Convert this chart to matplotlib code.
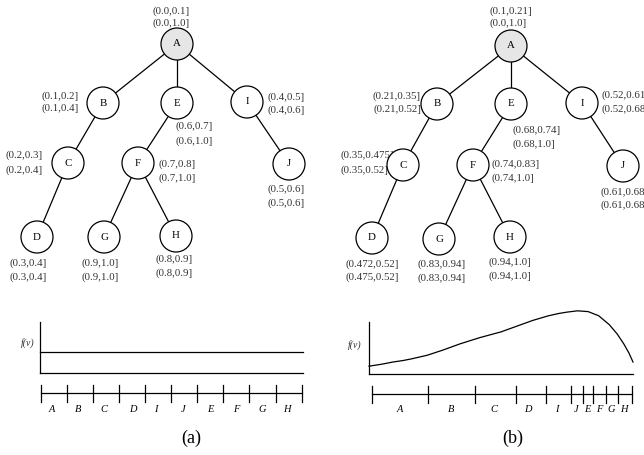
import numpy as np
import matplotlib
matplotlib.use('Agg')
import matplotlib.pyplot as plt
from matplotlib.patches import Circle

plt.rcParams['font.family'] = ['Liberation Serif', 'DejaVu Serif']

# tree structure
nodes = ['A', 'B', 'C', 'D', 'E', 'F', 'G', 'H', 'I', 'J']
edges = [('A', 'B'), ('A', 'E'), ('A', 'I'), ('B', 'C'), ('C', 'D'),
         ('E', 'F'), ('F', 'G'), ('F', 'H'), ('I', 'J')]

# interval labels per node (top line, bottom line)
labels_a = {'A': ('(0.0,0.1]', '(0.0,1.0]'), 'B': ('(0.1,0.2]', '(0.1,0.4]'),
            'C': ('(0.2,0.3]', '(0.2,0.4]'), 'D': ('(0.3,0.4]', '(0.3,0.4]'),
            'E': ('(0.6,0.7]', '(0.6,1.0]'), 'F': ('(0.7,0.8]', '(0.7,1.0]'),
            'G': ('(0.9,1.0]', '(0.9,1.0]'), 'H': ('(0.8,0.9]', '(0.8,0.9]'),
            'I': ('(0.4,0.5]', '(0.4,0.6]'), 'J': ('(0.5,0.6]', '(0.5,0.6]')}
labels_b = {'A': ('(0.1,0.21]', '(0.0,1.0]'), 'B': ('(0.21,0.35]', '(0.21,0.52]'),
            'C': ('(0.35,0.475]', '(0.35,0.52]'), 'D': ('(0.472,0.52]', '(0.475,0.52]'),
            'E': ('(0.68,0.74]', '(0.68,1.0]'), 'F': ('(0.74,0.83]', '(0.74,1.0]'),
            'G': ('(0.83,0.94]', '(0.83,0.94]'), 'H': ('(0.94,1.0]', '(0.94,1.0]'),
            'I': ('(0.52,0.61', '(0.52,0.68'), 'J': ('(0.61,0.68', '(0.61,0.68')}

# interval axis: order of segments and their boundaries (fraction of axis)
seg_order = ['A', 'B', 'C', 'D', 'I', 'J', 'E', 'F', 'G', 'H']
bounds_a = [0.0, 0.1, 0.2, 0.3, 0.4, 0.5, 0.6, 0.7, 0.8, 0.9, 1.0]
bounds_b = [0.0, 0.215, 0.397, 0.552, 0.667, 0.763, 0.809, 0.848, 0.898, 0.944, 1.0]

# density f(v)
fv_a_x = [0.0, 1.0]
fv_a_y = [0.41, 0.41]
fv_b_x = [0.0, 0.05, 0.09, 0.13, 0.16, 0.22, 0.28, 0.345, 0.42, 0.50, 0.56, 0.62, 0.68,
          0.72, 0.75, 0.79, 0.83, 0.87, 0.91, 0.94, 0.965, 0.985, 1.0]
fv_b_y = [0.15, 0.19, 0.23, 0.26, 0.29, 0.36, 0.46, 0.58, 0.70, 0.81, 0.92, 1.03, 1.12,
          1.165, 1.19, 1.215, 1.20, 1.12, 0.95, 0.77, 0.58, 0.40, 0.23]

# layout (pixels)
pos_a = {'A': (177, 44), 'B': (103, 103), 'E': (177, 103), 'I': (247, 102),
         'C': (68, 163), 'F': (138, 163), 'J': (289, 164),
         'D': (37, 237), 'G': (104, 237), 'H': (176, 236)}
pos_b = {'A': (511, 46), 'B': (437, 104), 'E': (511, 104), 'I': (582, 103),
         'C': (403, 165), 'F': (473, 165), 'J': (623, 166),
         'D': (372, 238), 'G': (439, 239), 'H': (510, 237)}
# label anchor: (x, y_top, y_bottom, ha)
lab_a = {'A': (153, 11, 23, 'left'), 'B': (79, 96, 108, 'right'),
         'I': (268, 97, 110, 'left'), 'E': (176, 126, 141, 'left'),
         'C': (43, 155, 170, 'right'), 'F': (159, 164, 178, 'left'),
         'J': (286, 189, 203, 'center'), 'D': (28, 263, 277, 'center'),
         'G': (100, 263, 277, 'center'), 'H': (174, 259, 273, 'center')}
lab_b = {'A': (490, 11, 23, 'left'), 'B': (421, 96, 109, 'right'),
         'I': (602, 95, 109, 'left'), 'E': (513, 130, 144, 'left'),
         'C': (341, 155, 170, 'left'), 'F': (492, 164, 178, 'left'),
         'J': (601, 192, 205, 'left'), 'D': (372, 264, 277, 'center'),
         'G': (442, 264, 278, 'center'), 'H': (510, 262, 276, 'center')}

fig = plt.figure(figsize=(6.44, 4.55), dpi=100)
ax = fig.add_axes([0, 0, 1, 1])
ax.set_xlim(0, 644)
ax.set_ylim(455, 0)
ax.axis('off')

R = 16
fs = 7.8


def draw_tree(pos, labels, lab):
    for p, c in edges:
        ax.plot([pos[p][0], pos[c][0]], [pos[p][1], pos[c][1]], color='black', lw=0.9, zorder=1)
    for n in nodes:
        fc = '#e6e6e6' if n == 'A' else 'white'
        ax.add_patch(Circle(pos[n], R, facecolor=fc, edgecolor='black', lw=0.9, zorder=3))
        ax.text(pos[n][0], pos[n][1], n, ha='center', va='center', fontsize=7.8, zorder=4)
        x, y1, y2, ha = lab[n]
        ax.text(x, y1, labels[n][0], ha=ha, va='center', fontsize=fs, color='#333333', zorder=2)
        ax.text(x, y2, labels[n][1], ha=ha, va='center', fontsize=fs, color='#333333', zorder=2)


draw_tree(pos_a, labels_a, lab_a)
draw_tree(pos_b, labels_b, lab_b)


def draw_intervals(x0, x1, y, bounds, ylab, label_x):
    ax.plot([x0, x1], [y, y], color='black', lw=0.9)
    xs = [x0 + b * (x1 - x0) for b in bounds]
    for x in xs:
        ax.plot([x, x], [y - 8.5, y + 8.5], color='black', lw=0.9)
    for name, lx in zip(seg_order, label_x):
        ax.text(lx, ylab, name, ha='center', va='center', fontsize=7.5, style='italic')


# label positions (pixels) for segment names
draw_intervals(40.7, 301.7, 393, bounds_a, 409,
               [52, 78, 104, 133, 156, 183, 210, 236, 262, 287])
draw_intervals(371.7, 632.3, 394, bounds_b, 409,
               [400, 451, 494, 528, 557, 576, 587, 599, 611, 624])


def fv_axes(rect, xs, ys):
    a = fig.add_axes(rect)
    a.set_xlim(0, 1)
    a.set_ylim(0, 1)
    for s in ['top', 'right']:
        a.spines[s].set_visible(False)
    for s in ['left', 'bottom']:
        a.spines[s].set_linewidth(0.9)
    a.set_xticks([])
    a.set_yticks([])
    a.patch.set_alpha(0)
    a.plot(xs, ys, color='black', lw=0.9, clip_on=False)
    return a


fv_axes([40 / 644, (455 - 373) / 455, 263 / 644, 51 / 455], fv_a_x, fv_a_y)
fv_axes([369 / 644, (455 - 374) / 455, 264 / 644, 52 / 455], fv_b_x, fv_b_y)
ax.text(28, 343, 'f(v)', ha='center', va='center', fontsize=7, style='italic', color='#333333')
ax.text(355, 345, 'f(v)', ha='center', va='center', fontsize=7, style='italic', color='#333333')

ax.text(191, 438, '(a)', ha='center', va='center', fontsize=13)
ax.text(513, 438, '(b)', ha='center', va='center', fontsize=13)

fig.savefig('out.png', dpi=100)
